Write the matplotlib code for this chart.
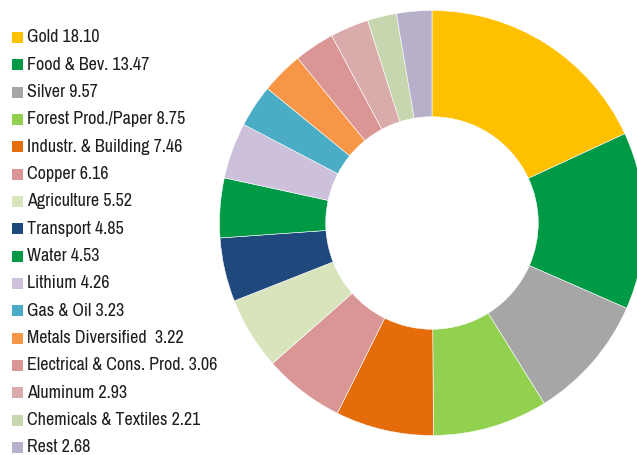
import matplotlib
matplotlib.use("Agg")
import matplotlib.pyplot as plt
from matplotlib.patches import Rectangle

sectors = ["Gold", "Food & Bev.", "Silver", "Forest Prod./Paper", "Industr. & Building",
           "Copper", "Agriculture", "Transport", "Water", "Lithium", "Gas & Oil",
           "Metals Diversified ", "Electrical & Cons. Prod.", "Aluminum",
           "Chemicals & Textiles", "Rest"]
weights = [18.10, 13.47, 9.57, 8.75, 7.46, 6.16, 5.52, 4.85, 4.53, 4.26, 3.23,
           3.22, 3.06, 2.93, 2.21, 2.68]
colors = ["#FFC000", "#009A46", "#A6A6A6", "#92D050", "#E46C0A", "#DA9694",
          "#D8E4BC", "#1F497D", "#009A46", "#CCC0DA", "#4BACC6", "#F79646",
          "#DA9694", "#DAABAB", "#C6D6AE", "#B8AFCB"]

W, H = 637, 455
fig = plt.figure(figsize=(W / 100, H / 100), dpi=100)

cx, cy, r = 432, 223, 212.5
ax = fig.add_axes([(cx - r) / W, (H - cy - r) / H, 2 * r / W, 2 * r / H])
ax.pie(weights, colors=colors, startangle=90, counterclock=False, radius=1,
       wedgeprops=dict(width=0.5, edgecolor="white", linewidth=0.4))
ax.set_xlim(-1, 1)
ax.set_ylim(-1, 1)
ax.set_aspect("equal")
ax.axis("off")

font = ["Archivo Narrow", "DejaVu Sans"]
y0, dy = 37.5, 27.33
for i, (name, val, col) in enumerate(zip(sectors, weights, colors)):
    y = y0 + i * dy
    fig.patches.append(Rectangle((12 / W, (H - y - 5.5) / H), 11 / W, 11 / H,
                                 transform=fig.transFigure, facecolor=col,
                                 edgecolor="none"))
    fig.text(27 / W, (H - y) / H, f"{name} {val:.2f}", fontsize=13,
             family=font, color="#1e1e1e", va="center", ha="left")

fig.savefig("out.png", dpi=100)
